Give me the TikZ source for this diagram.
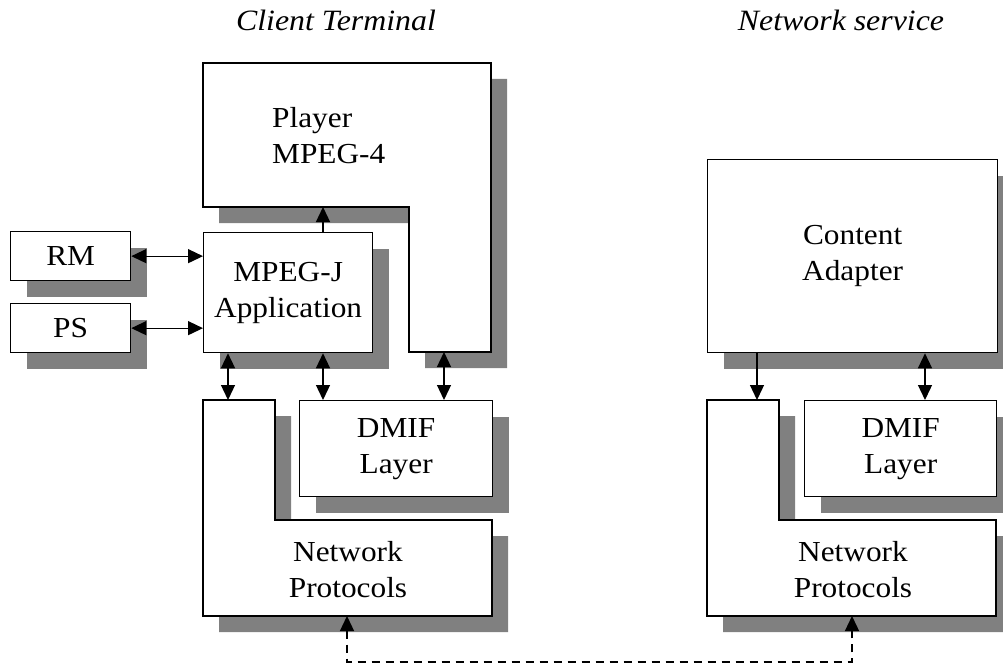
\documentclass[tikz,border=0pt]{standalone}
\usepackage{fontspec}
\setmainfont[FakeStretch=1.08]{Liberation Serif}
\usetikzlibrary{arrows.meta,positioning,calc,shadows}
\definecolor{shgris}{RGB}{128,128,128}
\tikzset{
  blockshadow/.style={
    drop shadow={shadow xshift=16pt, shadow yshift=-16pt, fill=shgris, opacity=1}
  },
  blockbox/.style={
    rectangle, draw=black, line width=1.3pt, fill=white, blockshadow,
    anchor=north west, align=center, inner sep=0pt,
    font=\fontsize{29}{36}\selectfont
  },
  lpart/.style={rectangle, anchor=north west, inner sep=0pt, outer sep=0pt},
  lshape/.style={draw=black, line width=1.3pt, fill=white, blockshadow},
  blocktext/.style={inner sep=0pt, font=\fontsize{29}{36}\selectfont},
  titletext/.style={inner sep=0pt, font=\fontsize{29.5}{34}\selectfont\itshape},
  arr/.style={-{Triangle[length=15pt,width=14pt]}, line width=1.3pt},
  dblarr/.style={{Triangle[length=15pt,width=14pt]}-{Triangle[length=15pt,width=14pt]},
    line width=1.3pt}
}

\begin{document}
\begin{tikzpicture}[x=1pt, y=-1pt]
  \useasboundingbox (0,0) rectangle (1003,666);

  \node[titletext] (client) at (336,20) {Client Terminal};
  \node[titletext] (service) at (841,20) {Network service};

  % L-shaped blocks, built from two parts each
  \node[lpart, minimum width=288pt, minimum height=144pt] (player) at (203,63) {};
  \node[lpart, minimum width=82pt, minimum height=145pt] (playerarm) at (409,207) {};
  \node[lpart, minimum width=72pt, minimum height=120pt] (netup) at (203,400) {};
  \node[lpart, minimum width=289pt, minimum height=96pt] (net) at (203,520) {};
  \node[lpart, minimum width=72pt, minimum height=120pt] (netRup) at (707,400) {};
  \node[lpart, minimum width=289pt, minimum height=96pt] (netR) at (707,520) {};

  \path[lshape] (player.north west) -- (player.north east) -- (playerarm.south east)
    -- (playerarm.south west) -- (playerarm.north west) -- (player.south west) -- cycle;
  \path[lshape] (netup.north west) -- (netup.north east) -- (netup.south east)
    -- (net.north east) -- (net.south east) -- (net.south west) -- cycle;
  \path[lshape] (netRup.north west) -- (netRup.north east) -- (netRup.south east)
    -- (netR.north east) -- (netR.south east) -- (netR.south west) -- cycle;

  \node[blocktext, anchor=west, align=left] (playertxt) at (272,136) {Player\\MPEG-4};
  \node[blocktext, align=center] (nettxt) at (348,570) {Network\\Protocols};
  \node[blocktext, align=center] (netRtxt) at (853,570) {Network\\Protocols};

  \node[blockbox, minimum width=120pt, minimum height=49pt] (rm) at (10,231) {RM};
  \node[blockbox, minimum width=120pt, minimum height=49pt] (ps) at (10,303) {PS};
  \node[blockbox, minimum width=169pt, minimum height=120pt] (appl) at (203,232)
    {MPEG-J\\Application};
  \node[blockbox, minimum width=193pt, minimum height=96pt] (dmif) at (299,400)
    {DMIF\\Layer};
  \node[blockbox, minimum width=290pt, minimum height=193pt] (adapter) at (707,159)
    {Content\\Adapter};
  \node[blockbox, minimum width=192pt, minimum height=96pt] (dmifR) at (804,400)
    {DMIF\\Layer};

  \coordinate (xa) at (323,0);
  \coordinate (xb) at (228,0);
  \coordinate (xd) at (444,0);
  \coordinate (xg) at (757,0);
  \coordinate (xh) at (925,0);
  \coordinate (xl) at (347,0);
  \coordinate (xr) at (852,0);
  \coordinate (yd) at (0,662);

  \draw[arr] (appl.north -| xa) -- (player.south -| xa);
  \draw[dblarr] (rm.east) -- (rm.east -| appl.west);
  \draw[dblarr] (ps.east) -- (ps.east -| appl.west);
  \draw[dblarr] (appl.south -| xb) -- (netup.north -| xb);
  \draw[dblarr] (appl.south -| xa) -- (dmif.north -| xa);
  \draw[dblarr] (playerarm.south -| xd) -- (dmif.north -| xd);
  \draw[arr] (adapter.south -| xg) -- (netRup.north -| xg);
  \draw[dblarr] (adapter.south -| xh) -- (dmifR.north -| xh);
  \draw[dblarr, dash pattern=on 8pt off 6pt] (net.south -| xl) -- (xl |- yd)
    -- (xr |- yd) -- (netR.south -| xr);
\end{tikzpicture}
\end{document}
